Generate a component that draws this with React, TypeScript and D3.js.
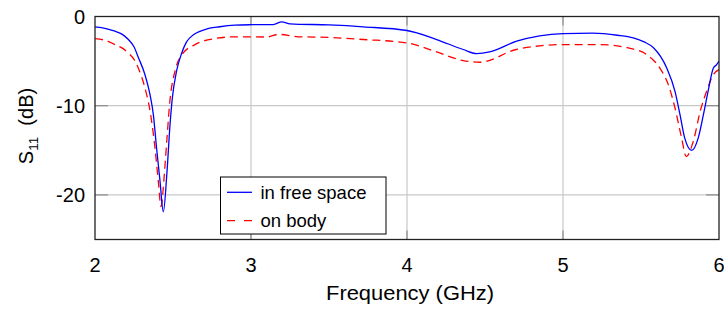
import React from "react";
import * as d3 from "d3";

const freqFree = [2.0, 2.07, 2.128, 2.175, 2.214, 2.25, 2.278, 2.32, 2.353, 2.374, 2.395, 2.417, 2.438, 2.46, 2.481, 2.496, 2.523, 2.556, 2.585, 2.62, 2.705, 2.8, 2.897, 3.0, 3.143, 3.197, 3.25, 3.5, 3.72, 4.0, 4.19, 4.36, 4.447, 4.53, 4.703, 5.0, 5.19, 5.35, 5.45, 5.52, 5.58, 5.665, 5.718, 5.75, 5.78, 5.825, 5.867, 5.9, 5.93, 5.964, 5.985, 6.0];
const s11Free = [-1.16, -1.35, -1.65, -2.0, -2.58, -3.4, -4.6, -6.5, -8.8, -11.0, -14.8, -18.5, -21.9, -17.8, -12.1, -9.1, -6.1, -4.1, -2.9, -2.2, -1.46, -1.15, -0.97, -0.92, -0.9, -0.6, -0.82, -0.95, -1.16, -1.57, -2.58, -3.7, -4.16, -3.97, -2.77, -1.91, -1.87, -2.1, -2.4, -2.85, -3.5, -5.77, -8.4, -11.0, -13.6, -15.0, -13.6, -11.0, -8.4, -5.77, -5.4, -5.0];

const freqBody = [2.0, 2.07, 2.128, 2.175, 2.214, 2.25, 2.278, 2.32, 2.353, 2.385, 2.406, 2.423, 2.444, 2.46, 2.48, 2.513, 2.556, 2.641, 2.77, 2.897, 3.1, 3.175, 3.29, 3.5, 3.72, 4.0, 4.19, 4.36, 4.47, 4.7, 5.0, 5.237, 5.41, 5.536, 5.62, 5.675, 5.718, 5.76, 5.79, 5.835, 5.88, 5.92, 5.964, 6.0];
const s11Body = [-2.47, -2.7, -3.15, -3.55, -4.1, -4.8, -5.8, -8.0, -10.6, -14.8, -18.5, -21.3, -17.8, -14.0, -9.5, -6.1, -4.3, -3.15, -2.47, -2.28, -2.3, -2.0, -2.25, -2.35, -2.58, -2.96, -3.97, -4.94, -5.13, -3.7, -3.15, -3.15, -3.5, -4.27, -5.77, -7.64, -10.26, -13.6, -15.7, -14.0, -10.6, -8.4, -6.5, -5.96];

const xTicks = [2, 3, 4, 5, 6];
const yTicks = [0, -10, -20];
const seriesNames = ["in free space", "on body"];

const W = 724, H = 309;
const L = 95, R = 719, T = 16.5, B = 239.5;
const FONT = "'Liberation Sans', Arial, Helvetica, sans-serif";

export default function App() {
  const x = d3.scaleLinear().domain([2, 6]).range([L, R]);
  const y = d3.scaleLinear().domain([-25, 0]).range([B, T]);
  const line = d3.line<[number, number]>()
    .x((d) => x(d[0]))
    .y((d) => y(d[1]))
    .curve(d3.curveMonotoneX);
  const freePath = line(freqFree.map((f, i) => [f, s11Free[i]]))!;
  const bodyPath = line(freqBody.map((f, i) => [f, s11Body[i]]))!;

  const grid = "#c8c8c8";
  const tickC = "#8a8a8a";

  return (
    <svg width={W} height={H} style={{ position: "absolute", left: 0, top: 0, background: "#fff" }} fontFamily={FONT}>
      <defs>
        <clipPath id="plot">
          <rect x={L} y={T} width={R - L} height={B - T} />
        </clipPath>
      </defs>
      {xTicks.slice(1, -1).map((t) => (
        <line key={"gx" + t} x1={x(t)} x2={x(t)} y1={T} y2={B} stroke={grid} strokeWidth={1.2} />
      ))}
      {yTicks.slice(1).map((t) => (
        <line key={"gy" + t} x1={L} x2={R} y1={y(t)} y2={y(t)} stroke={grid} strokeWidth={1.2} />
      ))}
      {xTicks.slice(1, -1).map((t) => (
        <g key={"tx" + t}>
          <line x1={x(t)} x2={x(t)} y1={B} y2={B - 9} stroke={tickC} strokeWidth={1.2} />
          <line x1={x(t)} x2={x(t)} y1={T} y2={T + 9} stroke={tickC} strokeWidth={1.2} />
        </g>
      ))}
      {yTicks.slice(1).map((t) => (
        <g key={"ty" + t}>
          <line x1={L} x2={L + 13} y1={y(t)} y2={y(t)} stroke={tickC} strokeWidth={1.2} />
          <line x1={R} x2={R - 13} y1={y(t)} y2={y(t)} stroke={tickC} strokeWidth={1.2} />
        </g>
      ))}
      <g clipPath="url(#plot)">
        <path d={bodyPath} fill="none" stroke="#ff0000" strokeWidth={1.3} strokeDasharray="8,5" />
        <path d={freePath} fill="none" stroke="#0000ff" strokeWidth={1.3} />
      </g>
      <rect x={L} y={T} width={R - L} height={B - T} fill="none" stroke="#222" strokeWidth={1.3} />
      {xTicks.map((t) => (
        <text key={"lx" + t} x={x(t)} y={272} textAnchor="middle" fontSize={20} fill="#000">{t}</text>
      ))}
      {yTicks.map((t) => (
        <text key={"ly" + t} x={85} y={y(t) + 7.5} textAnchor="end" fontSize={20} fill="#000">{t}</text>
      ))}
      <text x={(L + R) / 2 + 3} y={300} textAnchor="middle" fontSize={20} textLength={168} lengthAdjust="spacingAndGlyphs" fill="#000">Frequency (GHz)</text>
      <g transform={`translate(33, ${(T + B) / 2 - 2}) rotate(-90)`}>
        <text textAnchor="middle" fontSize={20} fill="#000">
          S<tspan fontSize={13.5} dy={5}>11</tspan><tspan dy={-5}>{"\u00a0 (dB)"}</tspan>
        </text>
      </g>
      <rect x={220.5} y={177} width={165.5} height={57} fill="#fff" stroke="#000" strokeWidth={1} />
      <line x1={227} x2={252} y1={192.3} y2={192.3} stroke="#0000ff" strokeWidth={1.3} />
      <line x1={227} x2={252} y1={220.7} y2={220.7} stroke="#ff0000" strokeWidth={1.3} strokeDasharray="8,9" />
      <text x={260.5} y={198.5} fontSize={18.5} fill="#000">{seriesNames[0]}</text>
      <text x={260.5} y={226.8} fontSize={18.5} fill="#000">{seriesNames[1]}</text>
    </svg>
  );
}
